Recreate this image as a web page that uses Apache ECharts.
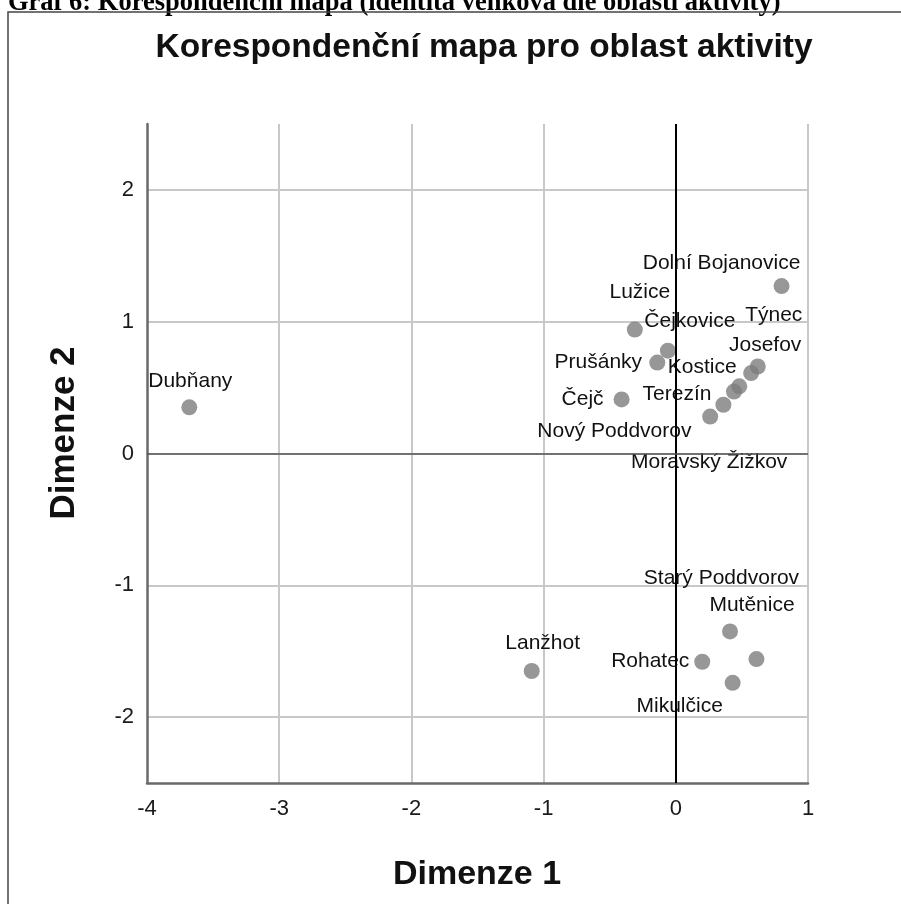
<!DOCTYPE html>
<html>
<head>
<meta charset="utf-8">
<title>Korespondenční mapa pro oblast aktivity</title>
<script src="https://cdn.jsdelivr.net/npm/echarts@6/dist/echarts.min.js"></script>
<style>
  html, body { margin: 0; padding: 0; background: #ffffff; }
  #chart { width: 901px; height: 904px; }
</style>
</head>
<body>
<div id="chart"></div>
<script>
// obce a jejich souradnice (dimenze 1, dimenze 2)
const obce = [
  "Dubňany", "Lanžhot", "Dolní Bojanovice", "Lužice", "Čejkovice", "Prušánky",
  "Čejč", "Týnec", "Josefov", "Kostice", "Terezín", "Nový Poddvorov",
  "Moravský Žižkov", "Mutěnice", "Rohatec", "Starý Poddvorov", "Mikulčice"
];
const dim1 = [-3.68, -1.09, 0.80, -0.31, -0.06, -0.14, -0.41, 0.62, 0.57, 0.48, 0.44, 0.36, 0.26, 0.41, 0.20, 0.61, 0.43];
const dim2 = [0.35, -1.65, 1.27, 0.94, 0.78, 0.69, 0.41, 0.66, 0.61, 0.51, 0.47, 0.37, 0.28, -1.35, -1.58, -1.56, -1.74];
const xTicks = [-4, -3, -2, -1, 0, 1];
const yTicks = [-2, -1, 0, 1, 2];

// posun popisku od bodu (jen vzhled)
const labelOffsets = {
  "Dubňany": [1, -26], "Lanžhot": [11, -28], "Dolní Bojanovice": [-60, -23],
  "Lužice": [5, -37], "Čejkovice": [22, -29], "Prušánky": [-59, 0],
  "Čejč": [-39, 0], "Týnec": [16, -51], "Josefov": [14, -28],
  "Kostice": [-37, -19], "Terezín": [-57, 3], "Nový Poddvorov": [-109, 26],
  "Moravský Žižkov": [-1, 46], "Mutěnice": [22, -26], "Rohatec": [-52, -1],
  "Starý Poddvorov": [-35, -81], "Mikulčice": [-53, 23]
};

const font = "'Liberation Sans', Arial, sans-serif";

const points = obce.map((name, i) => ({
  name: name,
  value: [dim1[i], dim2[i]]
}));

const chart = echarts.init(document.getElementById("chart"));
chart.setOption({
  backgroundColor: "#ffffff",
  animation: false,
  graphic: [
    {
      type: "text",
      left: 8,
      top: -10,
      style: {
        text: "Graf 6: Korespondenční mapa (identita venkova dle oblasti aktivity)",
        font: "bold 26.5px 'Liberation Serif', 'Times New Roman', serif",
        fill: "#000000"
      }
    },
    {
      type: "rect",
      shape: { x: 8, y: 12, width: 1000, height: 1000 },
      style: { fill: "none", stroke: "#444444", lineWidth: 1.5 }
    },
    {
      type: "text",
      x: 477,
      y: 875,
      style: {
        text: "Dimenze 1",
        font: "bold 34px " + font,
        fill: "#111111",
        align: "center",
        verticalAlign: "middle"
      }
    },
    {
      type: "text",
      x: 64,
      y: 433,
      rotation: Math.PI / 2,
      style: {
        text: "Dimenze 2",
        font: "bold 35px " + font,
        fill: "#111111",
        align: "center",
        verticalAlign: "middle"
      }
    }
  ],
  title: {
    text: "Korespondenční mapa pro oblast aktivity",
    left: 479,
    textAlign: "center",
    top: 26,
    textStyle: {
      fontFamily: font,
      fontSize: 33.5,
      fontWeight: "bold",
      color: "#111111"
    }
  },
  grid: {
    left: 147,
    right: 93,
    top: 124,
    bottom: 121
  },
  xAxis: {
    type: "value",
    min: xTicks[0],
    max: xTicks[xTicks.length - 1],
    interval: 1,
    axisLine: { show: true, onZero: false, lineStyle: { color: "#6a6a6a", width: 2.5 } },
    axisTick: { show: false },
    axisLabel: {
      margin: 15,
      fontFamily: font,
      fontSize: 22,
      color: "#1a1a1a"
    },
    splitLine: {
      show: true,
      showMinLine: false,
      lineStyle: { color: "#c8c8c8", width: 2 }
    }
  },
  yAxis: {
    type: "value",
    min: -2.5,
    max: 2.5,
    axisLine: { show: true, onZero: false, lineStyle: { color: "#6a6a6a", width: 2.5 } },
    axisTick: { show: false },
    axisLabel: {
      margin: 13,
      fontFamily: font,
      fontSize: 22,
      color: "#1a1a1a",
      showMinLabel: false,
      showMaxLabel: false
    },
    splitLine: {
      show: true,
      showMinLine: false,
      showMaxLine: false,
      lineStyle: { color: "#c8c8c8", width: 2 }
    }
  },
  series: [
    {
      type: "scatter",
      symbol: "circle",
      symbolSize: 16,
      itemStyle: { color: "#7d7d7d" },
      label: {
        show: true,
        position: "inside",
        formatter: "{b}",
        fontFamily: font,
        fontSize: 21,
        color: "#111111",
        textBorderWidth: 0,
        opacity: 1
      },
      labelLayout: function (params) {
        const off = labelOffsets[obce[params.dataIndex]] || [0, 0];
        return { dx: off[0], dy: off[1], hideOverlap: false };
      },
      markLine: {
        silent: true,
        symbol: "none",
        label: { show: false },
        data: [
          { xAxis: 0, lineStyle: { color: "#000000", width: 2, type: "solid" } },
          { yAxis: 0, lineStyle: { color: "#555555", width: 1.5, type: "solid" } }
        ]
      },
      data: points
    }
  ]
});
</script>
</body>
</html>
